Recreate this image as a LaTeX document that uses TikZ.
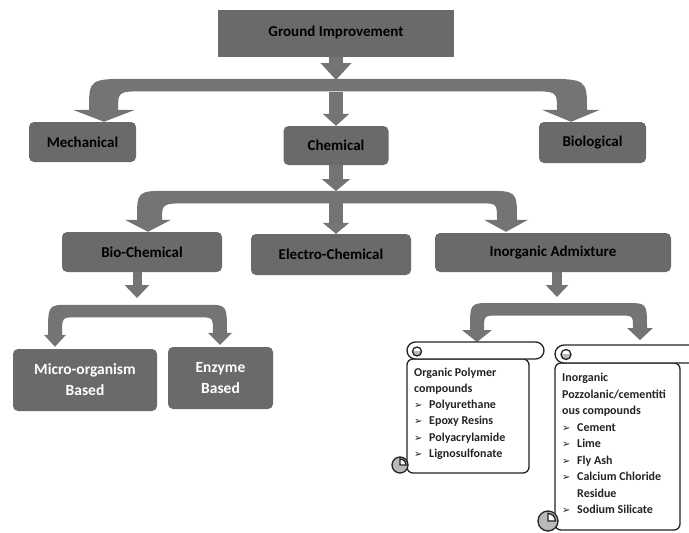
\documentclass[tikz,border=0pt]{standalone}
\usepackage{fontspec}
\setmainfont{Carlito}
\newfontfamily\bulletfont{DejaVu Sans}
\usetikzlibrary{arrows.meta, calc}

\definecolor{boxgray}{RGB}{106,106,106}
\definecolor{arrowgray}{RGB}{116,116,116}
\definecolor{curlgray}{RGB}{185,185,185}
\definecolor{inkgray}{RGB}{35,35,35}

% bent block arrow: tip, side (1 = hub on the right), bar height, head half width, outer, inner, length to hub
\newcommand{\bend}[7]{%
    \fill[arrowfill, shift={#1}, xscale=#2]
        (0,0) -- (-#4,-12) -- (-#5,-12)
        .. controls (-#5,-#3) and (-#5,-#3) .. ({2*#5},-#3)
        -- (#7,-#3) -- (#7,{12.5-#3}) -- ({3*#6},{12.5-#3})
        .. controls (#6,{12.5-#3}) and (#6,{12.5-#3}) .. (#6,-12)
        -- (#4,-12) -- cycle;}

\newcommand{\itm}[1]{\makebox[15pt][l]{\bulletfont\fontsize{10}{10}\selectfont ➢}#1}

\begin{document}
\begin{tikzpicture}[
            x = 1pt, y = -1pt, % one unit per pixel, y downward
            font = \fontsize{15}{18}\selectfont\bfseries
        ]

        \tikzstyle{block}=[
            fill = boxgray,
            rounded corners = 5pt,
            text = black,
            inner sep = 0pt
        ]
        \tikzstyle{stem}=[draw = arrowgray, line width = 14pt]
        \tikzstyle{arrowfill}=[fill = arrowgray]
        \tikzstyle{scroll}=[draw = inkgray, line width = 1.3pt]

    \useasboundingbox (0,0) rectangle (689,533);
    \clip (0,0) rectangle (689,533);

	\node[block, rounded corners = 0pt, minimum width = 236pt, minimum height = 47pt] (gi) at (336,33.5) {\raisebox{4pt}{Ground Improvement}};
	\node[block, minimum width = 107pt, minimum height = 40pt] (mech) at (82.5,142) {Mechanical};
	\node[block, minimum width = 105pt, minimum height = 39pt] (chem) at (336,145.5) {Chemical};
	\node[block, minimum width = 107pt, minimum height = 41pt] (bio) at (592.5,142.5) {Biological};
	\node[block, minimum width = 160pt, minimum height = 40pt] (biochem) at (142,252) {Bio-Chemical};
	\node[block, minimum width = 160pt, minimum height = 41pt] (elec) at (331,254.5) {Electro-Chemical};
	\node[block, minimum width = 236pt, minimum height = 39pt] (inorg) at (553,252.5) {Inorganic Admixture};
	\node[block, text = white, align = center, font = \fontsize{15.5}{21}\selectfont\bfseries,
	      minimum width = 144pt, minimum height = 62pt] (micro) at (85,380) {Micro-organism\\Based};
	\node[block, text = white, align = center, font = \fontsize{15.5}{21}\selectfont\bfseries,
	      minimum width = 105pt, minimum height = 62pt] (enzyme) at (220.5,378) {Enzyme\\Based};

	\coordinate (hubA) at (336,80);
	\coordinate (hubB) at (336,191);
	\coordinate (hubC) at (137,298);
	\coordinate (hubD) at (557,297);
	\coordinate (scrollA) at (477,342);
	\coordinate (scrollB) at (640,340);

	% first level
	\draw[stem, -{Triangle[width = 30pt, length = 17pt]}] (gi.south) -- (hubA);
	\draw[stem, -{Triangle[width = 26pt, length = 12pt]}] ($(hubA)+(0,12)$) -- (hubA |- chem.north);
	\bend{($(mech.north)+(21.5,0)$)}{1}{43}{31}{15}{14}{232}
	\bend{($(bio.north)+(-21.5,0)$)}{-1}{43}{29}{16}{14}{235}

	% second level
	\draw[stem, -{Triangle[width = 28pt, length = 12pt]}] (chem.south) -- (hubB);
	\draw[stem, -{Triangle[width = 26pt, length = 11pt]}] ($(hubB)+(0,12)$) -- (hubB |- elec.north);
	\bend{($(biochem.north)+(6,0)$)}{1}{41}{23}{11}{14}{188}
	\bend{($(inorg.north)+(-47,-1)$)}{-1}{41}{22}{11}{9}{170}

	% third level
	\draw[stem, line width = 9pt, -{Triangle[width = 24pt, length = 13pt]}] (biochem.south -| hubC) -- (hubC);
	\bend{($(micro.north)+(-30,-2)$)}{1}{42}{11}{7}{7}{82}
	\bend{($(enzyme.north)+(-0.5,-2)$)}{-1}{40}{12}{7}{7}{83}
	\draw[stem, line width = 10pt, -{Triangle[width = 22pt, length = 12pt]}] (inorg.south -| hubD) -- (hubD);
	\bend{(scrollA)}{1}{39}{15}{7}{7}{80}
	\bend{(scrollB)}{-1}{37}{13}{7}{7}{83}

	% organic polymer scroll
	\filldraw[scroll, fill = white, rounded corners = 6pt] (407,359) -- (407,473) -- (529,473) -- (529,359) -- cycle;
	\draw[scroll, fill = white, rounded corners = 8.5pt] (407,342) rectangle (544,359);
	\begin{scope}
	    \clip (410,351.5) rectangle (424,358);
	    \fill[curlgray] (417,351.5) circle (4.5pt);
	\end{scope}
	\draw[scroll] (417,351.5) circle (4.5pt);
	\filldraw[scroll, fill = curlgray] (400,465) circle (8pt);
	\filldraw[scroll, fill = white] (400,465) -- (406,465) arc (0:90:6pt) -- cycle;
	\node[anchor = north west, inner sep = 0pt, align = left, text = inkgray,
	      font = \fontsize{12}{16.2}\selectfont\bfseries] (organic) at (414,364.7)
	      {\strut Organic Polymer\\compounds\\\itm{Polyurethane}\\\itm{Epoxy Resins}\\\itm{Polyacrylamide}\\\itm{Lignosulfonate}};

	% pozzolanic scroll
	\filldraw[scroll, fill = white, rounded corners = 6pt] (555,363) -- (555,530) -- (680,530) -- (680,363) -- cycle;
	\draw[scroll, fill = white, rounded corners = 9pt] (555,345) rectangle (712,363);
	\begin{scope}
	    \clip (559,354.5) rectangle (574,361);
	    \fill[curlgray] (566,354.5) circle (5pt);
	\end{scope}
	\draw[scroll] (566,354.5) circle (5pt);
	\filldraw[scroll, fill = curlgray] (548,521) circle (10pt);
	\filldraw[scroll, fill = white] (548,521) -- (555.5,521) arc (0:90:7.5pt) -- cycle;
	\node[anchor = north west, inner sep = 0pt, align = left, text = inkgray,
	      font = \fontsize{12}{16.5}\selectfont\bfseries] (pozzo) at (562,370)
	      {\strut Inorganic\\Pozzolanic/cementiti\\ous compounds\\\itm{Cement}\\\itm{Lime}\\\itm{Fly Ash}\\\itm{Calcium Chloride}\\\hspace*{15pt}Residue\\\itm{Sodium Silicate}};

\end{tikzpicture}
\end{document}
